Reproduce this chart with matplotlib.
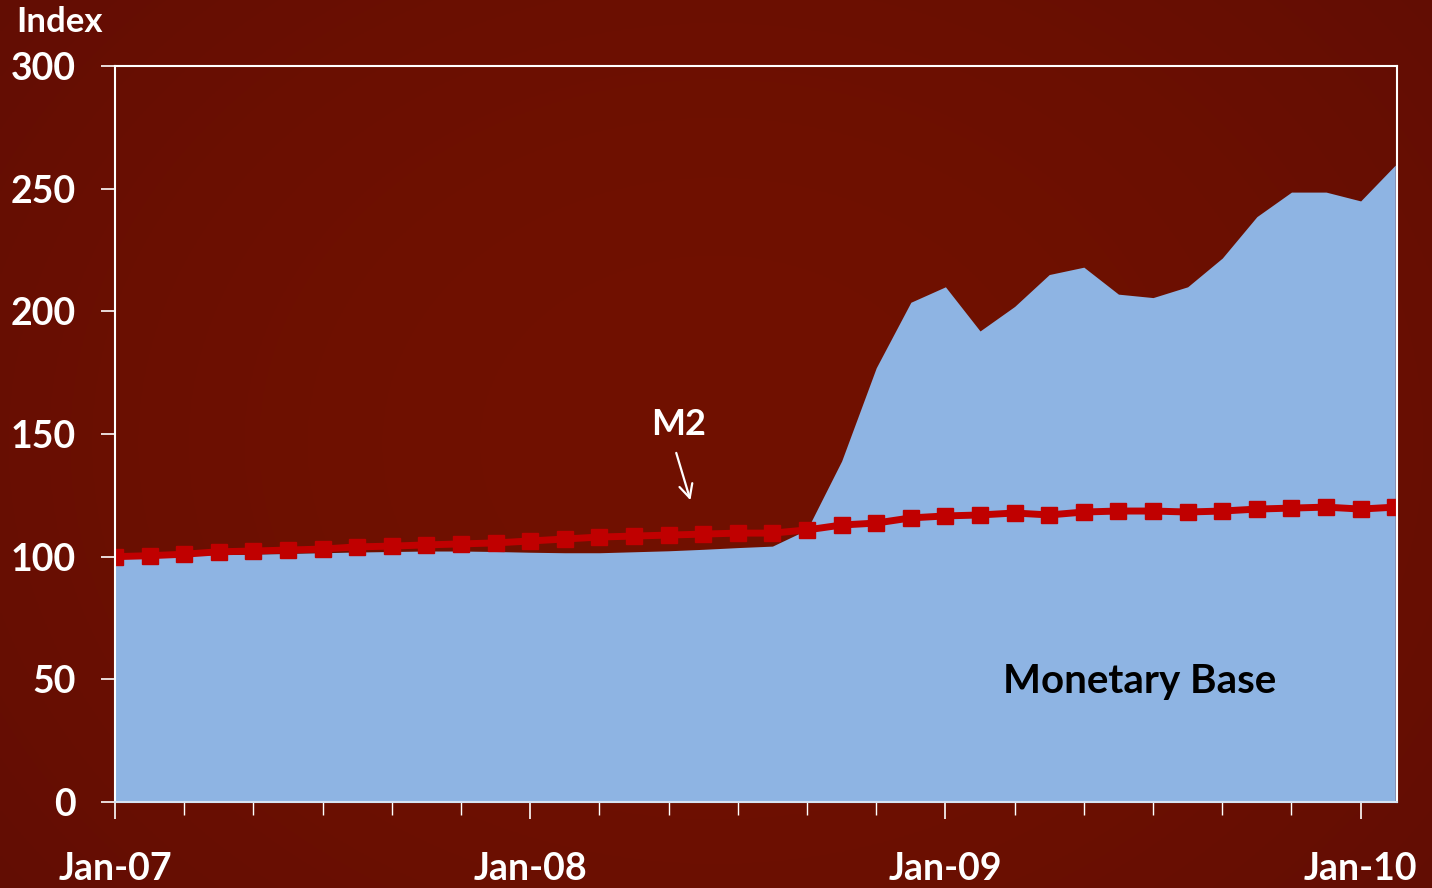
import numpy as np
import matplotlib
matplotlib.use('Agg')
import matplotlib.pyplot as plt
from matplotlib.ticker import MultipleLocator, FixedLocator

plt.rcParams['font.family'] = ['Lato', 'DejaVu Sans']

# 月度指数数据，2007年1月 = 100（2007-01 至 2010-02）
months = np.arange(38)
tick_labels = ['Jan-07', 'Jan-08', 'Jan-09', 'Jan-10']

monetary_base = [100.0, 100.2, 100.5, 100.8, 101.0, 101.3, 101.6, 101.9, 102.1, 102.3, 102.3, 102.1,
                 101.8, 101.6, 101.6, 102.0, 102.4, 103.0, 103.7, 104.3, 111.0, 139.0, 177.0, 203.7,
                 210.0, 192.0, 202.0, 215.0, 218.0, 207.0, 205.6, 210.0, 221.7, 238.6, 248.6, 248.6,
                 245.0, 259.6]

m2 = [100.0, 100.4, 101.0, 102.0, 102.3, 102.7, 103.1, 104.0, 104.3, 104.8, 105.2, 105.6,
      106.4, 107.2, 108.0, 108.4, 108.8, 109.2, 109.6, 109.6, 110.9, 112.9, 113.7, 115.8,
      116.6, 117.0, 117.8, 117.0, 118.2, 118.6, 118.6, 118.2, 118.6, 119.4, 119.8, 120.2,
      119.4, 120.2]

fig = plt.figure(figsize=(14.32, 8.88), dpi=100)

# 背景：深红色，边缘略暗
bg = fig.add_axes([0, 0, 1, 1], zorder=-10)
yy, xx = np.mgrid[-1:1:300j, -1:1:480j]
r = np.sqrt((xx * 0.9) ** 2 + (yy * 0.7) ** 2)
r = np.clip(r / 1.15, 0, 1)
c0 = np.array([113, 17, 0]) / 255.0
c1 = np.array([98, 13, 4]) / 255.0
w = r[..., None] ** 2
img = c0[None, None, :] * (1 - w) + c1[None, None, :] * w
bg.imshow(img, aspect='auto', extent=[0, 1, 0, 1])
bg.axis('off')

ax = fig.add_axes([115 / 1432, 86 / 888, 1282 / 1432, 736 / 888])
ax.set_facecolor('none')

ax.fill_between(months, 0, monetary_base, color='#8EB4E3', lw=0, zorder=2)
ax.plot(months, m2, color='#C00000', lw=5, marker='s', ms=11, zorder=3)

ax.set_xlim(0, 37.05)
ax.set_ylim(0, 300)
ax.yaxis.set_major_locator(MultipleLocator(50))
ax.xaxis.set_major_locator(FixedLocator([0, 12, 24, 36]))
ax.xaxis.set_minor_locator(FixedLocator(np.arange(0, 38, 2)))
ax.set_xticklabels(tick_labels)

for s in ax.spines.values():
    s.set_color('white')
    s.set_linewidth(1.5)
    s.set_zorder(4)
ax.spines['bottom'].set_color('#D6E3F3')

ax.tick_params(axis='y', colors='white', length=10, width=1.2, direction='out', pad=18,
               labelsize=27, labelcolor='white')
ax.tick_params(axis='x', which='major', colors='white', length=12, width=1.2, direction='out',
               pad=24, labelsize=27, labelcolor='white')
ax.tick_params(axis='x', which='minor', colors='white', length=9, width=1.0, direction='out')
for lab in ax.get_xticklabels() + ax.get_yticklabels():
    lab.set_fontweight('bold')

fig.text(16 / 1432, 1 - 22 / 888, 'Index', color='white', fontsize=25, fontweight='bold',
         ha='left', va='center')

ax.text(16.3, 154, 'M2', color='white', fontsize=26, fontweight='bold',
        ha='center', va='center', zorder=5)
ax.annotate('', xy=(16.63, 123), xytext=(16.22, 142.3),
            arrowprops=dict(arrowstyle='->', color='white', lw=1.6, mutation_scale=24,
                            shrinkA=0, shrinkB=0), zorder=5)

ax.text(29.6, 49, 'Monetary Base', color='black', fontsize=29, fontweight='bold',
        ha='center', va='center', zorder=5)

plt.savefig('out.png', dpi=100)
